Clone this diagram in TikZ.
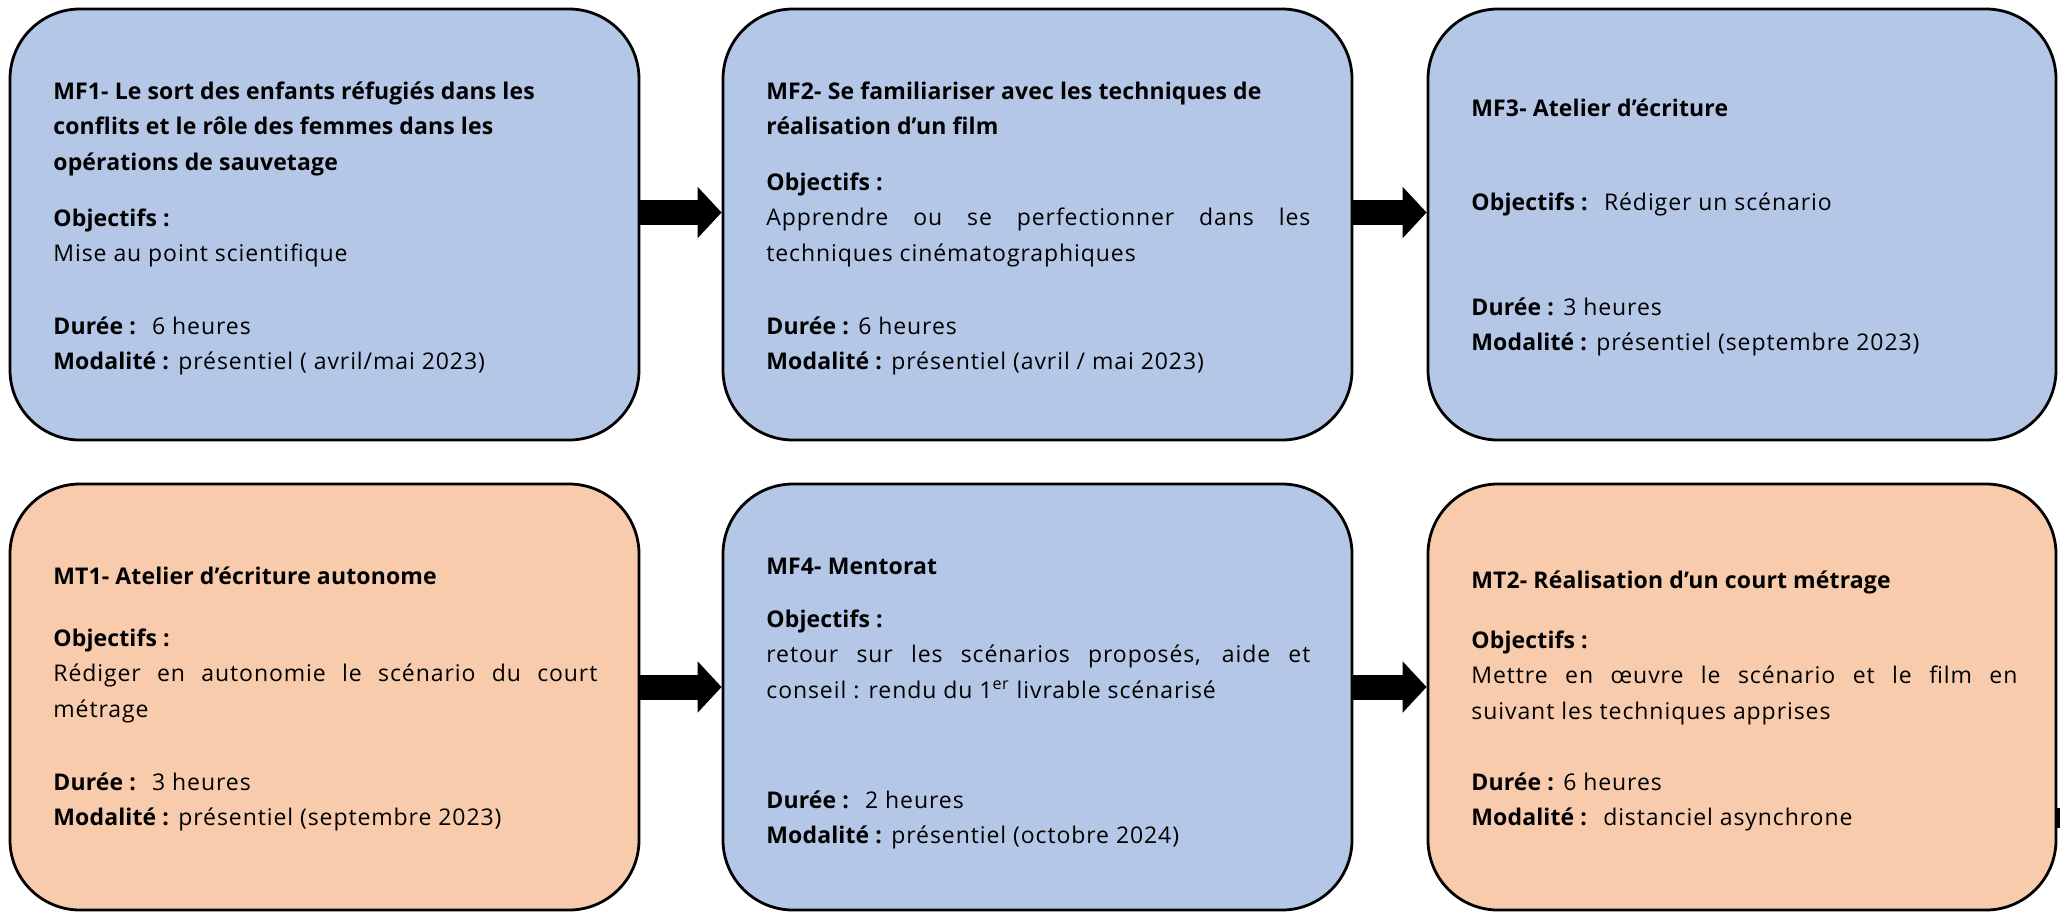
\documentclass[tikz,border=0pt]{standalone}
\usepackage{fontspec}
\setmainfont{Open Sans}[UprightFeatures={LetterSpace=4.0}, BoldFeatures={LetterSpace=0.6}]
\usetikzlibrary{arrows.meta,fit}
\definecolor{boxblue}{HTML}{B4C7E7}
\definecolor{boxorange}{HTML}{F8CBAD}
\newcommand\jl[1]{\makebox[272pt][s]{#1}}
\newcommand\blk[1]{\vtop{\hsize=330pt\parindent=0pt\baselineskip=17.75pt\lineskiplimit=-20pt\rightskip=0pt plus 1fil #1}}
\tikzset{
  box/.style={draw=black, line width=1.4pt, rounded corners=35pt, inner sep=0pt, fit={#1}},
  txt/.style={anchor=base west, inner sep=0pt, font=\fontsize{11.5pt}{17.75pt}\selectfont},
  arr/.style={line width=12.5pt, -{Triangle[length=12pt,width=25pt]}}
}
\begin{document}
\begin{tikzpicture}[x=0.5pt,y=-0.5pt]
\useasboundingbox (0,0) rectangle (2067,912);
% boxes
\node[box={(10,9) (639,440)}, fill=boxblue] (mf1) {};
\node[box={(723,9) (1352,440)}, fill=boxblue] (mf2) {};
\node[box={(1428,9) (2056,440)}, fill=boxblue] (mf3) {};
\node[box={(10,484) (639,910)}, fill=boxorange] (mt1) {};
\node[box={(723,484) (1352,910)}, fill=boxblue] (mf4) {};
\node[box={(1428,484) (2056,910)}, fill=boxorange] (mt2) {};
% arrows
\draw[arr] ([yshift=6pt]mf1.east) -- ([yshift=6pt]mf2.west);
\draw[arr] ([yshift=6pt]mf2.east) -- ([yshift=6pt]mf3.west);
\draw[arr] ([yshift=5pt]mt1.east) -- ([yshift=5pt]mf4.west);
\draw[arr] ([yshift=5pt]mf4.east) -- ([yshift=5pt]mt2.west);
% small mark at right edge
\fill[black] (2055,808) rectangle (2060,828);
% MF1
\node[txt] (mf1a) at (53,99) {\blk{\textbf{MF1- Le sort des enfants réfugiés dans les}\\\textbf{conflits et le rôle des femmes dans les}\\\textbf{opérations de sauvetage}}};
\node[txt] (mf1b) at (53,226) {\blk{\textbf{Objectifs :}\\Mise au point scientifique}};
\node[txt] (mf1c) at (53,334) {\blk{\textbf{Durée :}~ 6 heures\\\textbf{Modalité :} présentiel ( avril/mai 2023)}};
% MF2
\node[txt] (mf2a) at (766,99) {\blk{\textbf{MF2- Se familiariser avec les techniques de}\\\textbf{réalisation d’un film}}};
\node[txt] (mf2b) at (766,190) {\blk{\textbf{Objectifs :}\\\jl{Apprendre ou se perfectionner dans les}\\techniques cinématographiques}};
\node[txt] (mf2c) at (766,334) {\blk{\textbf{Durée :} 6 heures\\\textbf{Modalité :} présentiel (avril / mai 2023)}};
% MF3
\node[txt] (mf3a) at (1471,116) {\blk{\textbf{MF3- Atelier d’écriture}}};
\node[txt] (mf3b) at (1471,210) {\blk{\textbf{Objectifs :}~ Rédiger un scénario}};
\node[txt] (mf3c) at (1471,315) {\blk{\textbf{Durée :} 3 heures\\\textbf{Modalité :} présentiel (septembre 2023)}};
% MT1
\node[txt] (mt1a) at (53,584) {\blk{\textbf{MT1- Atelier d’écriture autonome}}};
\node[txt] (mt1b) at (53,646) {\blk{\textbf{Objectifs :}\\\jl{Rédiger en autonomie le scénario du court}\\métrage}};
\node[txt] (mt1c) at (53,790) {\blk{\textbf{Durée :}~ 3 heures\\\textbf{Modalité :} présentiel (septembre 2023)}};
% MF4
\node[txt] (mf4a) at (766,574) {\blk{\textbf{MF4- Mentorat}}};
\node[txt] (mf4b) at (766,627) {\blk{\textbf{Objectifs :}\\\jl{retour sur les scénarios proposés, aide et}\\conseil : rendu du 1\textsuperscript{er} livrable scénarisé}};
\node[txt] (mf4c) at (766,808) {\blk{\textbf{Durée :}~ 2 heures\\\textbf{Modalité :} présentiel (octobre 2024)}};
% MT2
\node[txt] (mt2a) at (1471,588) {\blk{\textbf{MT2- Réalisation d’un court métrage}}};
\node[txt] (mt2b) at (1471,648) {\blk{\textbf{Objectifs :}\\\makebox[273pt][s]{Mettre en œuvre le scénario et le film en}\\suivant les techniques apprises}};
\node[txt] (mt2c) at (1471,790) {\blk{\textbf{Durée :} 6 heures\\\textbf{Modalité :}~ distanciel asynchrone}};
\end{tikzpicture}
\end{document}
